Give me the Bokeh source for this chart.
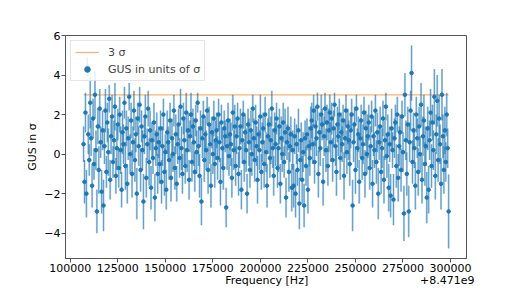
import numpy as np
from bokeh.plotting import figure
from bokeh.models import (Range1d, Legend, LegendItem, CustomJSTickFormatter,
                          FixedTicker, ColumnDataSource)
from bokeh.embed import file_html
from bokeh.resources import INLINE

# ---------------- data ----------------
freq_start = 107000      # Hz offset from 8.471e9
freq_step = 500          # Hz bin width
freq_offset_label = "+8.471e9"
x_label = "Frequency [Hz]"
y_label = "GUS in σ"
sigma_level = 3

gus = [
    0.5, -1.4, 2.1, -2.0, 4.4, 1.0, -0.3, 2.6, 0.8, -1.6, 1.8, -0.5, 3.0, 0.2, -2.9, 1.4, -0.8, 2.3, 0.6, -1.9,
    1.2, -2.6, 0.4, 2.2, -0.9, 1.6, 0.1, 2.8, -1.3, 0.9, 1.9, -0.4, 0.7, 2.4, -1.1, 0.3, 1.5, -0.7, 2.0, 0.2,
    -1.8, 1.1, 0.5, 2.6, -0.6, 1.3, -1.5, 0.8, 2.9, 0.0, 1.7, -1.0, 0.6, 2.2, -0.3, 1.0, -2.0, 1.8, 0.4, 2.5,
    -0.8, 1.4, 0.2, -2.4, 0.9, 1.9, -1.2, 0.5, 2.3, -0.4, 1.2, -1.7, 0.7, -0.2, 1.6, -2.2, 0.3, 1.0, -1.0, 0.6,
    -0.5, 1.3, -1.4, 0.4, 2.0, -0.9, 0.1, -1.8, 1.1, 0.6, -0.3, 1.7, -1.2, 0.8, 0.0, 2.2, -0.7, 1.0, -1.5, 0.5,
    1.5, -0.2, 2.4, 0.3, -1.0, 1.8, 0.7, -0.6, 2.1, 0.2, 1.2, -1.3, 0.9, 2.0, -0.4, 1.4, 0.6, -0.9, 1.7, 0.1,
    2.6, 0.4, -1.1, 1.3, -2.4, 0.8, 1.9, -0.3, 1.0, 0.2, 2.2, -0.8, 1.5, 0.5, -1.6, 1.1, 0.0, 1.8, -0.5, 0.7,
    1.2, -0.2, 2.0, 0.6, -1.4, 1.6, 0.3, -0.7, 1.3, 0.9, -2.7, 0.4, 1.7, -0.1, 1.0, 0.5, -1.2, 2.1, 0.2, 1.4,
    -0.6, 0.9, 1.8, -1.0, 0.3, 1.4, -1.8, 0.7, 2.0, -0.4, 1.1, 0.2, -2.0, 1.5, 0.6, -0.8, 1.2, 0.0, 2.3, 0.8,
    -0.3, 1.6, 0.4, -1.3, 1.0, 0.2, 1.9, -0.9, 0.6, 1.3, -0.5, 2.0, 0.1, -1.6, 0.9, 1.5, -0.2, 0.7, 2.3, 0.3,
    -1.1, 1.2, 0.5, 1.8, -0.7, 0.3, 1.4, -1.5, 0.8, 0.0, 1.6, -0.4, 1.1, -2.2, 0.6, 1.3, -0.9, 0.4, 1.0, -1.7,
    0.2, -1.6, 0.9, -2.0, 0.5, -0.8, 1.2, -2.5, -0.3, 0.7, -1.3, 0.1, -2.6, 0.8, -0.6, 1.0, -1.8, 0.4, -0.2, 1.3,
    1.7, 0.5, 2.2, -0.4, 1.4, 0.8, 2.4, -1.0, 1.1, 0.3, 2.0, 1.5, -1.4, 0.9, 2.3, 0.2, 1.6, -0.6, 1.2, 2.1,
    0.6, 1.8, -0.3, 1.3, 2.5, 0.4, -0.9, 1.5, 0.9, 2.0, -0.2, 1.1, 0.5, 1.7, -1.1, 0.8, 2.2, 0.1, 1.4, 0.7,
    -0.5, 1.2, 2.0, -2.6, 0.6, 1.5, -0.8, 2.3, 0.3, 1.0, -1.4, 0.8, 1.7, -0.2, 0.5, 2.1, -1.0, 1.3, 0.0, 0.9,
    1.6, -0.7, 0.4, 1.9, -1.5, 0.9, 0.2, 2.2, -0.4, 1.1, -2.0, 0.6, 1.4, -0.9, 0.3, 1.8, -1.3, 0.7, 2.4, -0.1,
    1.0, -1.7, 0.5, -2.1, 1.3, 0.2, -2.3, 0.8, 1.6, -0.6, 2.0, -1.2, 0.4, 1.1, -0.8, 1.9, 0.1, -3.0, 3.0, 0.7,
    -1.0, 1.5, -2.9, 0.6, 2.2, 4.1, -0.4, 1.2, 0.3, -1.6, 2.0, 0.8, -0.9, 1.4, 0.0, 2.5, -1.3, 0.9, 1.7, -0.5,
    0.4, -2.2, 1.3, -1.8, 0.7, 2.1, -0.6, 1.6, 0.2, 2.9, -1.1, 1.0, 2.7, -0.3, 1.8, 0.5, -1.5, 3.0, 0.9, -0.8,
    1.2, -0.4, 2.0, 0.3, -2.9,
]

gus_err = [
    0.9, 1.1, 1.0, 1.2, 0.5, 1.0, 0.8, 1.3, 0.9, 1.1, 1.0, 0.8, 1.2, 1.0, 1.1, 0.9, 1.2, 1.0, 0.8, 1.1,
    1.0, 1.3, 0.9, 1.1, 0.8, 1.0, 1.2, 0.7, 1.0, 0.9, 1.1, 0.8, 1.0, 1.2, 0.9, 1.1, 0.8, 1.0, 0.9, 1.2,
    0.9, 1.1, 1.0, 0.8, 1.2, 0.9, 1.0, 1.1, 0.7, 1.0, 0.9, 1.2, 0.8, 1.0, 1.1, 0.9, 1.3, 0.8, 1.0, 0.9,
    1.1, 0.8, 1.0, 1.4, 0.9, 1.1, 1.0, 0.8, 0.9, 1.2, 1.0, 1.1, 0.9, 0.8, 1.0, 1.2, 0.9, 1.1, 1.0, 0.8,
    1.0, 0.9, 1.1, 1.0, 0.8, 1.2, 0.9, 1.0, 1.1, 0.8, 1.0, 0.9, 1.2, 1.0, 0.9, 0.8, 1.1, 1.0, 0.9, 1.0,
    0.8, 1.0, 0.9, 1.1, 1.0, 0.8, 1.2, 0.9, 1.0, 1.1, 0.9, 1.0, 0.8, 1.1, 1.0, 0.9, 1.2, 1.0, 0.8, 1.1,
    0.5, 1.0, 1.1, 0.9, 1.2, 1.0, 0.8, 1.1, 0.9, 1.0, 0.7, 1.2, 0.9, 1.0, 1.1, 0.8, 1.0, 0.9, 1.2, 1.0,
    0.9, 1.1, 0.8, 1.0, 1.2, 0.9, 1.0, 1.1, 0.9, 0.8, 1.0, 1.2, 0.9, 1.0, 0.8, 1.1, 1.0, 0.9, 1.0, 1.1,
    1.0, 0.9, 0.8, 1.1, 1.0, 0.9, 1.0, 1.2, 0.7, 1.0, 0.9, 1.1, 1.0, 0.8, 1.2, 0.9, 1.0, 1.1, 0.7, 1.0,
    1.1, 0.9, 1.0, 1.2, 0.8, 1.0, 1.1, 0.9, 1.0, 0.8, 1.2, 0.9, 1.0, 1.1, 0.9, 0.8, 1.0, 1.2, 0.9, 1.0,
    1.0, 0.9, 1.1, 0.8, 1.0, 1.2, 0.9, 1.0, 1.1, 0.9, 1.0, 0.8, 1.2, 1.0, 0.9, 1.1, 1.0, 0.8, 0.9, 1.2,
    1.0, 1.1, 0.9, 1.2, 1.0, 0.8, 1.1, 1.3, 1.0, 0.9, 1.2, 1.0, 1.1, 0.9, 1.0, 0.8, 1.2, 1.0, 0.9, 1.1,
    0.9, 1.0, 0.8, 1.1, 1.0, 0.9, 0.7, 1.2, 1.0, 0.9, 1.0, 0.8, 1.2, 1.0, 0.8, 1.1, 0.9, 1.0, 1.1, 0.9,
    1.0, 0.8, 1.1, 0.9, 0.6, 1.0, 1.2, 0.9, 1.0, 0.8, 1.1, 1.0, 0.9, 0.8, 1.2, 1.0, 0.8, 1.1, 0.9, 1.0,
    1.1, 0.9, 0.8, 1.3, 1.0, 0.9, 1.2, 0.7, 1.0, 0.9, 1.1, 1.0, 0.8, 1.1, 1.0, 0.8, 1.2, 0.9, 1.0, 1.1,
    0.9, 1.1, 1.0, 0.8, 1.2, 1.0, 0.9, 0.8, 1.1, 1.0, 1.3, 0.9, 1.0, 1.1, 1.0, 0.9, 1.2, 1.0, 0.7, 1.1,
    1.0, 1.2, 0.9, 1.1, 1.0, 0.9, 1.3, 1.0, 0.9, 1.1, 0.9, 1.2, 1.0, 0.9, 1.1, 0.8, 1.0, 1.4, 1.1, 1.0,
    1.1, 0.9, 1.3, 1.0, 1.0, 1.4, 1.1, 0.9, 1.0, 1.2, 0.9, 1.0, 1.2, 1.0, 0.9, 1.1, 1.2, 1.0, 1.3, 1.1,
    1.0, 1.3, 1.1, 1.2, 1.0, 1.2, 1.1, 0.9, 1.0, 1.4, 1.2, 1.0, 1.3, 1.1, 1.2, 1.0, 1.3, 1.3, 1.1, 1.2,
    1.2, 1.0, 1.1, 1.0, 1.87,
]

x_ticks = [100000, 125000, 150000, 175000, 200000, 225000, 250000, 275000, 300000]
y_ticks = [-4, -2, 0, 2, 4, 6]

# ---------------- build ----------------
y = np.array(gus)
e = np.array(gus_err)
f = freq_start + freq_step * np.arange(len(y))
src = ColumnDataSource(dict(f=f, y=y, lo=y - e, hi=y + e))

FONT = "DejaVu Sans"
FS = "11px"
BLUE = "#1f77b4"
AXC = "#555555"

p = figure(width=518, height=292, output_backend="svg", toolbar_location=None,
           x_range=Range1d(97500, 308400), y_range=Range1d(-5.28, 6.0),
           min_border_left=65, min_border_right=52, min_border_top=35, min_border_bottom=34)
p.xgrid.visible = False
p.ygrid.visible = False
p.outline_line_color = AXC
p.background_fill_color = "white"
p.border_fill_color = "white"

for ax in (p.xaxis[0], p.yaxis[0]):
    ax.axis_line_color = AXC
    ax.major_tick_line_color = AXC
    ax.major_tick_in = 0
    ax.major_tick_out = 4
    ax.minor_tick_line_color = None
    ax.major_label_text_font = FONT
    ax.major_label_text_font_size = FS
    ax.major_label_text_color = "black"
    ax.major_label_standoff = 1
    ax.axis_label_text_font = FONT
    ax.axis_label_text_font_size = FS
    ax.axis_label_text_font_style = "normal"
    ax.axis_label_text_color = "black"

p.xaxis.ticker = FixedTicker(ticks=x_ticks)
p.xaxis.formatter = CustomJSTickFormatter(code="return tick.toFixed(0);")
p.yaxis.ticker = FixedTicker(ticks=y_ticks)
p.yaxis.formatter = CustomJSTickFormatter(
    code="return tick < 0 ? '\\u2212' + Math.abs(tick) : tick.toString();")
p.yaxis.axis_label = y_label
p.yaxis.axis_label_standoff = 2

# x label centred under the frame and the offset text flush right, on one line
NB = "\u00a0"
p.xaxis.axis_label = NB * 48 + x_label + NB * 32 + freq_offset_label
p.xaxis.axis_label_standoff = -1

line_r = p.line(x=[f[0], f[-1]], y=[sigma_level, sigma_level], line_color="#ff7f0e",
                line_alpha=0.6, line_width=1.2)

p.segment(x0="f", y0="lo", x1="f", y1="hi", source=src, line_color=BLUE,
          line_alpha=0.35, line_width=2.0)
p.segment(x0="f", y0="lo", x1="f", y1="hi", source=src, line_color=BLUE,
          line_alpha=0.8, line_width=0.7)
dot_r = p.scatter(x="f", y="y", source=src, size=3.6, fill_color=BLUE, line_color=BLUE)

legend = Legend(items=[LegendItem(label="3 σ", renderers=[line_r]),
                       LegendItem(label="GUS in units of σ", renderers=[dot_r])],
                location="top_left")
legend.margin = 5
legend.padding = 4
legend.spacing = 3
legend.glyph_width = 24
legend.glyph_height = 14
legend.label_height = 14
legend.label_standoff = 9
legend.label_text_font = FONT
legend.label_text_font_size = FS
legend.border_line_color = "#cccccc"
legend.background_fill_alpha = 0.85
p.add_layout(legend)

open("out.html", "w").write(file_html(p, INLINE))
